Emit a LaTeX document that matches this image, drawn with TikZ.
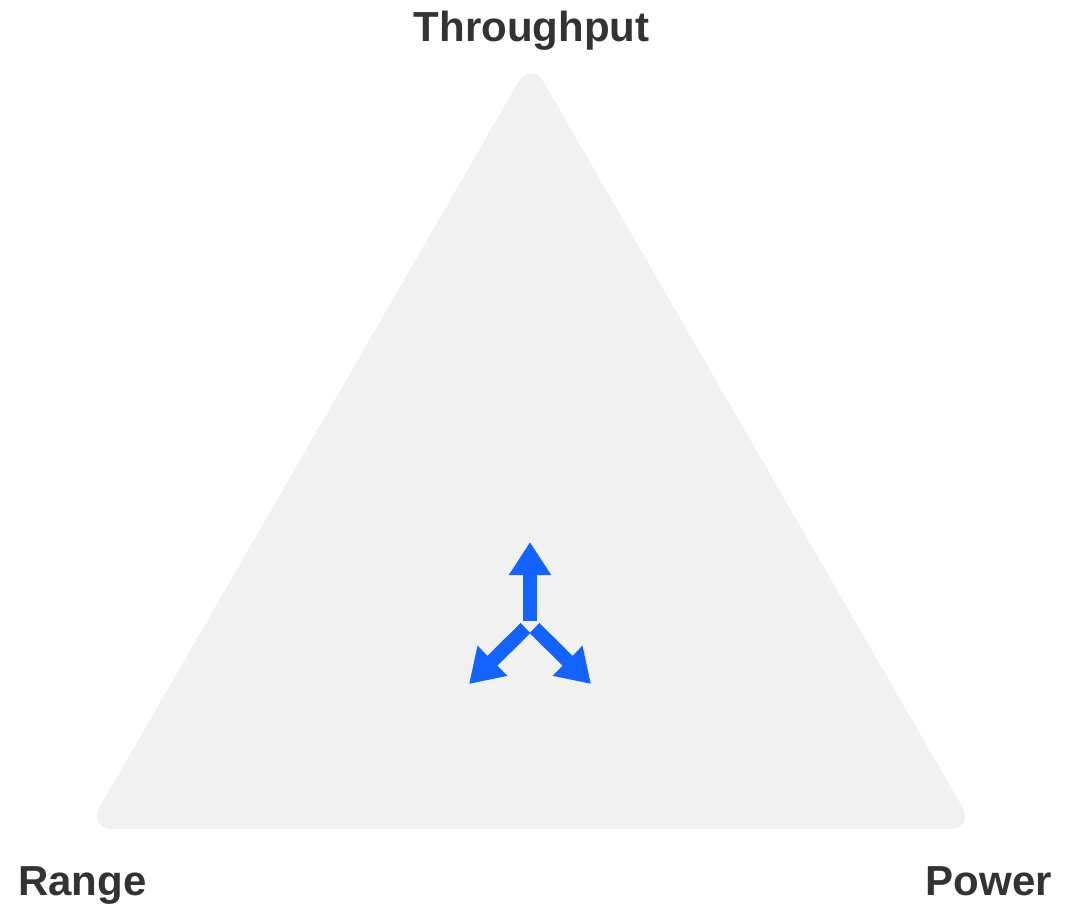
\documentclass[tikz,border=0pt]{standalone}
\usepackage{fontspec}
\setmainfont{Liberation Sans}
\usetikzlibrary{arrows.meta}
\definecolor{tri}{HTML}{F1F1F1}
\definecolor{txt}{HTML}{333333}
\definecolor{arr}{HTML}{1463FF}
\begin{document}
\begin{tikzpicture}[x=1pt,y=-1pt,
  lbl/.style={inner sep=0pt,text=txt,font=\fontsize{42}{50}\selectfont\bfseries},
  blue arrow/.style={draw=arr,line width=14pt,line cap=butt,-{Triangle[width=40pt,length=33pt]}}]
\useasboundingbox (0,0) rectangle (1081,903);
% triangle
\coordinate (vt) at (531,60);
\coordinate (vl) at (87,829);
\coordinate (vr) at (975,829);
\fill[tri,rounded corners=26pt] (vt) -- (vr) -- (vl) -- cycle;
% labels
\node[lbl,anchor=base] (thr) at (531.5,41) {Throughput};
\node[lbl,anchor=base west] (rng) at (18,895) {Range};
\node[lbl,anchor=base east] (pwr) at (1052,895) {Power};
% arrows
\coordinate (us) at (530,621);
\coordinate (ut) at (530,542);
\coordinate (ls) at (525.5,628);
\coordinate (lt) at (469,684);
\coordinate (rs) at (534.5,628);
\coordinate (rt) at (591,684);
\draw[blue arrow] (us) -- (ut);
\draw[blue arrow] (ls) -- (lt);
\draw[blue arrow] (rs) -- (rt);
\end{tikzpicture}
\end{document}
